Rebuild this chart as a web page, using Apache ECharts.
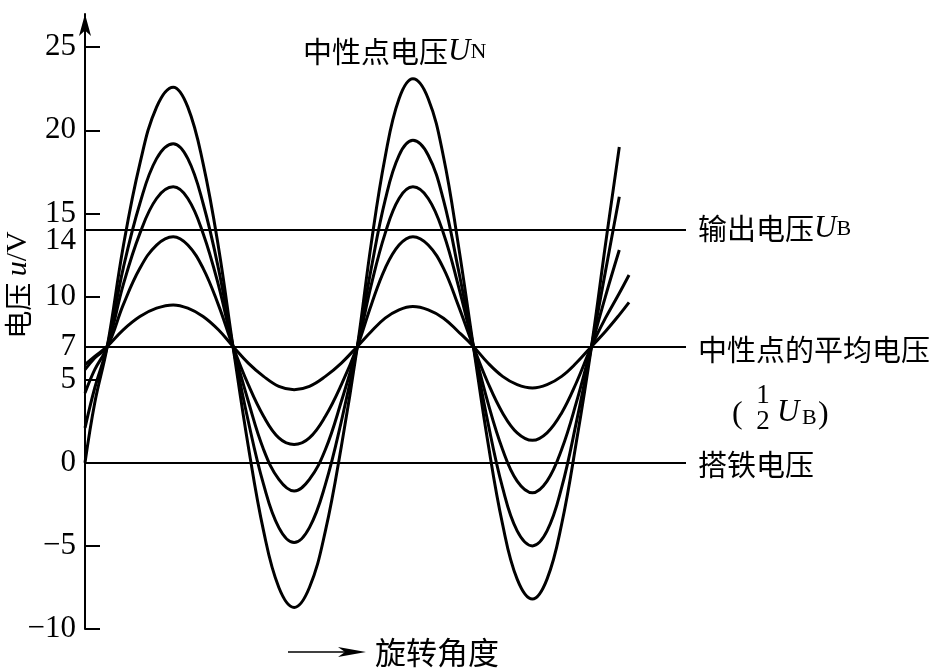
<!DOCTYPE html>
<html>
<head>
<meta charset="utf-8">
<title>中性点电压</title>
<script src="https://cdn.jsdelivr.net/npm/echarts@6/dist/echarts.min.js"></script>
<style>
  html, body { margin: 0; padding: 0; background: #fff; }
  #main { width: 951px; height: 668px; }
</style>
</head>
<body>
<div id="main"></div>
<script type="text/javascript">
// 旋转角度（度），横轴不显示
var angle = [0, 14, 32, 55, 79, 103, 127, 148, 170, 192, 213, 235, 257, 279, 301, 323, 346, 369, 392,
  412, 432, 452, 472, 494, 516, 537, 559, 580, 601, 622, 644, 665, 686, 707, 729, 749, 769, 783];

// 中性点电压 U_N 五条曲线（从大到小）
var uA = [0.0, 3.6, 7, 13.0, 18.0, 21.4, 22.6, 21.4, 18.0, 13.0, 7, 1.0, -4.1, -7.5, -8.7, -7.5, -4.1, 1.0, 7,
  13.2, 18.4, 21.9, 23.1, 21.9, 18.4, 13.2, 7, 1.2, -3.7, -7.0, -8.2, -7.0, -3.7, 1.2, 7, 13.1, 19.0, null];
var uB = [2.1, 4.5, 7, 11.7, 15.6, 18.3, 19.2, 18.3, 15.6, 11.7, 7, 2.5, -1.3, -3.9, -4.8, -3.9, -1.3, 2.5, 7,
  11.7, 15.8, 18.5, 19.4, 18.5, 15.8, 11.7, 7, 2.4, -1.5, -4.1, -5.0, -4.1, -1.5, 2.4, 7, 11.5, 16.0, null];
var uC = [4.2, 5.6, 7, 10.7, 13.8, 15.9, 16.6, 15.9, 13.8, 10.7, 7, 3.7, 0.8, -1.0, -1.7, -1.0, 0.8, 3.7, 7,
  10.7, 13.8, 15.9, 16.6, 15.9, 13.8, 10.7, 7, 3.6, 0.8, -1.1, -1.8, -1.1, 0.8, 3.6, 7, 10.0, 12.8, null];
var uD = [5.6, 6.3, 7, 9.5, 11.7, 13.1, 13.6, 13.1, 11.7, 9.5, 7, 4.7, 2.8, 1.5, 1.1, 1.5, 2.8, 4.7, 7,
  9.5, 11.7, 13.1, 13.6, 13.1, 11.7, 9.5, 7, 4.8, 3.0, 1.8, 1.35, 1.8, 3.0, 4.8, 7, 8.7, 10.2, 11.3];
var uE = [5.9, 6.4, 7, 8.0, 8.8, 9.3, 9.5, 9.3, 8.8, 8.0, 7, 6.0, 5.2, 4.6, 4.4, 4.6, 5.2, 6.0, 7,
  7.9, 8.7, 9.2, 9.4, 9.2, 8.7, 7.9, 7, 6.0, 5.2, 4.7, 4.5, 4.7, 5.2, 6.0, 7, 7.9, 8.9, 9.65];

// 纵轴刻度
var yTicks = [-10, -5, 5, 10, 15, 20, 25];
var yLabels = [-10, -5, 0, 5, 7, 10, 14, 15, 20, 25];
// 搭铁电压、中性点平均电压、输出电压
var refLines = [0, 7, 14];

var chart = echarts.init(document.getElementById('main'));

function curve(arr) {
  var pts = [];
  for (var i = 0; i < angle.length; i++) {
    pts.push([angle[i], arr[i]]);
  }
  return {
    type: 'line',
    data: pts,
    smooth: 0.4,
    showSymbol: false,
    silent: true,
    lineStyle: { color: '#000', width: 3 }
  };
}

var series = [curve(uA), curve(uB), curve(uC), curve(uD), curve(uE)];
series[0].markLine = {
  silent: true,
  symbol: ['none', 'none'],
  label: { show: false },
  lineStyle: { color: '#000', width: 2, type: 'solid' },
  data: refLines.map(function (v) { return { yAxis: v }; })
};

var cn = '"Noto Sans CJK SC"';
var serif = '"Liberation Serif"';

// 图上文字的公共样式
function txt(x, y, text, font, align, extra) {
  var st = {
    text: text, fill: '#000', font: font,
    align: align, verticalAlign: 'middle', textAlign: align, textVerticalAlign: 'middle'
  };
  if (extra) st.rich = extra;
  return { type: 'text', x: x, y: y, style: st };
}

var subRich = {
  u: { fontFamily: serif, fontStyle: 'italic', fontSize: 31 },
  n: { fontFamily: serif, fontSize: 22 }
};

var yName = txt(18, 285, '电压 {i|u}{s|/V}', '28px ' + cn, 'center', {
  i: { fontFamily: serif, fontStyle: 'italic', fontSize: 30 },
  s: { fontFamily: serif, fontSize: 30 }
});
yName.rotation = Math.PI / 2;

var option = {
  animation: false,
  backgroundColor: '#fff',
  grid: { left: 85, right: 265, top: 14, bottom: 39 },
  xAxis: {
    type: 'value',
    min: 0,
    max: 865,
    show: false
  },
  yAxis: {
    type: 'value',
    min: -10,
    max: 27,
    splitLine: { show: false },
    axisLine: {
      show: true,
      symbol: ['none', 'arrow'],
      symbolSize: [9, 22],
      lineStyle: { color: '#000', width: 2 }
    },
    axisTick: {
      show: true,
      inside: true,
      length: 15,
      customValues: yTicks,
      lineStyle: { color: '#000', width: 2 }
    },
    axisLabel: {
      customValues: yLabels,
      margin: 9,
      color: '#000',
      fontFamily: serif,
      fontSize: 31,
      formatter: function (v) {
        var s = String(v).replace('-', '\u2212');
        return v === 14 ? '{low|' + s + '}' : s;
      },
      rich: {
        low: { fontFamily: serif, fontSize: 31, color: '#000', padding: [22, 0, 0, 0] }
      }
    }
  },
  series: series,
  graphic: [
    yName,
    txt(303, 52, '中性点电压{u|U}{n|N}', '29px ' + cn, 'left', subRich),
    txt(698, 229, '输出电压{u|U}{n|B}', '29px ' + cn, 'left', subRich),
    txt(698, 350, '中性点的平均电压', '29px ' + cn, 'left'),
    txt(732, 415, '(', '32px ' + serif, 'left'),
    txt(763, 396, '1', '27px ' + serif, 'center'),
    txt(763, 422, '2', '27px ' + serif, 'center'),
    txt(777, 413, 'U', 'italic 31px ' + serif, 'left'),
    txt(802, 418, 'B', '22px ' + serif, 'left'),
    txt(818, 415, ')', '32px ' + serif, 'left'),
    txt(698, 465, '搭铁电压', '29px ' + cn, 'left'),
    {
      type: 'line',
      shape: { x1: 288, y1: 652, x2: 346, y2: 652 },
      style: { stroke: '#000', lineWidth: 1.5 }
    },
    {
      type: 'polygon',
      shape: { points: [[366, 652], [338, 647], [345, 652], [338, 657]] },
      style: { fill: '#000' }
    },
    txt(375, 652, '旋转角度', '31px ' + cn, 'left')
  ]
};

chart.setOption(option);
window.onresize = function () {
  chart.resize();
};
</script>
</body>
</html>
